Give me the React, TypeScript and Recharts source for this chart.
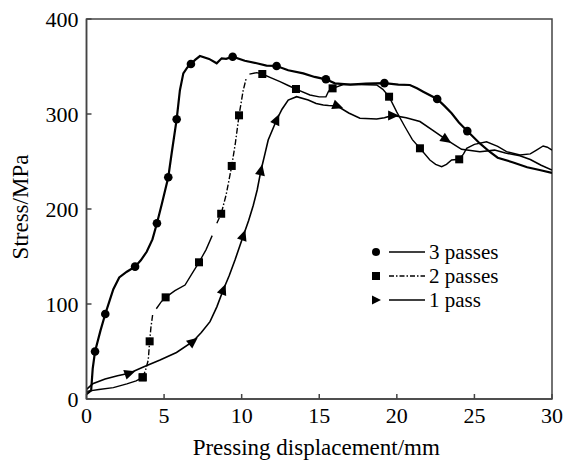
import React from 'react';
import { LineChart, Line, XAxis, YAxis, ReferenceArea, Legend } from 'recharts';

const FONT = '"Liberation Serif", "Times New Roman", Tinos, "DejaVu Serif", serif';

const X_TICKS = [0, 5, 10, 15, 20, 25, 30];
const Y_TICKS = [0, 100, 200, 300, 400];
const SERIES_NAMES = ['3 passes', '2 passes', '1 pass'];

// [displacement (mm), stress (MPa), marker flag]
const pass3: number[][] = [
  [0, 5], [0.3, 9], [0.4, 32], [0.55, 50, 1], [0.9, 72], [1.21, 89.5, 1], [1.5, 104], [1.73, 115.5],
  [2.11, 128], [2.6, 134], [3.13, 139.3, 1], [3.5, 146], [3.88, 155], [4.25, 168], [4.54, 185, 1],
  [4.85, 205], [5.27, 233.4, 1], [5.5, 260], [5.81, 294.4, 1], [6.02, 325], [6.24, 342.8], [6.5, 349],
  [6.73, 352.6, 1], [7.0, 357], [7.31, 361], [7.9, 358], [8.39, 353.4], [8.71, 358.6], [9.0, 358],
  [9.42, 360.3, 1], [10.2, 356], [10.97, 353.4], [11.6, 351], [12.25, 350.5, 1], [13.0, 346],
  [13.97, 342.8], [14.7, 339], [15.43, 336.5, 1], [16.01, 332.3], [17.0, 331], [18.0, 332],
  [19.2, 332.5, 1], [20.1, 331], [20.84, 330.5], [21.3, 327], [21.7, 323.5], [22.6, 315.8, 1],
  [23.1, 308], [23.53, 300.7], [24.0, 291], [24.54, 282, 1], [25.35, 269], [26.0, 260], [26.5, 254],
  [27.5, 249], [28.4, 244], [29.2, 241], [30, 238],
];

const pass2: number[][] = [
  [0, 8], [0.8, 10], [1.73, 12], [2.6, 16], [3.2, 19], [3.62, 22.8, 1], [3.8, 30], [3.98, 41],
  [4.07, 60.7, 1], [4.15, 75], [4.26, 88.4], [4.5, 95], [4.8, 102], [5.1, 107, 1], [5.7, 114],
  [6.35, 120], [6.8, 132], [7.25, 143.9, 1], [7.7, 157], [8.1, 172], [8.4, 185], [8.68, 195, 1],
  [9.0, 215], [9.36, 245.3, 1], [9.6, 270], [9.83, 298.6, 1], [10.1, 325], [10.3, 338], [10.5, 342],
  [10.97, 343.5], [11.33, 342.1, 1], [11.9, 338], [12.47, 334], [13.0, 330], [13.5, 326.3, 1],
  [14.4, 320], [15.0, 318], [15.43, 318], [15.6, 324], [15.86, 327, 1], [16.55, 331], [17.5, 331],
  [18.7, 330.5], [19.1, 326], [19.5, 318.2, 1], [20.0, 302], [20.52, 286.6], [21.0, 273],
  [21.49, 263.9, 1], [22.13, 251.6], [22.5, 247], [22.89, 244.5], [23.2, 247], [23.53, 251.6],
  [24.02, 252.3, 1], [24.3, 258], [24.5, 263.9], [25.0, 268], [25.78, 270.8], [26.5, 266],
  [27.07, 260.3], [27.93, 256.8], [28.6, 258], [29.0, 262], [29.43, 266.3], [29.7, 265], [30, 262],
];
// displacement ranges where the 2-pass curve is drawn dash-dotted
const pass2DashRanges: number[][] = [[3.62, 4.3], [8.3, 10.4]];

const pass1: number[][] = [
  [0, 10], [0.4, 16], [1.2, 21], [2.0, 24.5], [2.75, 27, 1], [3.7, 34], [4.74, 41], [5.8, 49],
  [6.84, 60.3, 1], [7.4, 70], [7.96, 81.4], [8.4, 97], [8.81, 114.7, 1], [9.2, 130], [9.57, 146.3],
  [10.1, 171.6, 1], [10.45, 188], [10.75, 204], [11.0, 220], [11.24, 240.3, 1], [11.5, 258],
  [11.71, 272.6], [12.25, 293.7, 1], [12.6, 305], [13.0, 314.7], [13.54, 318.2], [14.29, 314.7],
  [14.8, 311], [15.26, 309.5], [15.6, 309], [16.16, 308.4, 1], [16.9, 301], [17.62, 295.5],
  [18.7, 294.7], [19.2, 296], [19.73, 298.5, 1], [20.6, 296], [21.49, 292], [22.3, 283],
  [23.16, 273.3, 1], [24.17, 262.8], [25.35, 260.3], [26.3, 262], [27.0, 259], [27.93, 256],
  [28.6, 252], [29.3, 246], [30, 241],
];

const toRows = (arr: number[][]) => arr.map(([x, y, m]) => ({ x, y, m: !!m }));
const inRange = (x: number, open: boolean) =>
  pass2DashRanges.some(([a, b]) => (open ? x > a && x < b : x >= a && x <= b));

const data3 = toRows(pass3);
const data1 = toRows(pass1);
const data2Solid = toRows(pass2).map((r) => ({ ...r, y: inRange(r.x, true) ? null : r.y }));
const data2Dash = toRows(pass2).map((r) => ({ ...r, y: inRange(r.x, false) ? r.y : null }));

const PX_X = 465.5 / 30;
const PX_Y = 380 / 400;

const makeDot = (kind: string, rows: any[]) => (props: any) => {
  const { cx, cy, payload, index, points } = props;
  const key = `${kind}-${index}`;
  if (!payload || !payload.m || cx == null || cy == null || payload.y == null) return <g key={key} />;
  if (kind === 'circle') return <circle key={key} cx={cx} cy={cy} r={4.3} fill="#000" />;
  if (kind === 'square') return <rect key={key} x={cx - 4} y={cy - 4} width={8} height={8} fill="#000" />;
  let ang = 0;
  if (points && points.length > 1) {
    const p0 = points[Math.max(0, index - 1)];
    const p1 = points[Math.min(points.length - 1, index + 1)];
    ang = (Math.atan2(p1.y - p0.y, p1.x - p0.x) * 180) / Math.PI;
  } else {
    const a = rows[Math.max(0, index - 1)];
    const b = rows[Math.min(rows.length - 1, index + 1)];
    ang = (Math.atan2(-(b.y - a.y) * PX_Y, (b.x - a.x) * PX_X) * 180) / Math.PI;
  }
  return (
    <polygon key={key} points="6.5,0 -4.5,-5 -4.5,5" transform={`translate(${cx},${cy}) rotate(${ang})`} fill="#000" />
  );
};

const LEGEND_STYLES = [
  { marker: 'circle', dash: undefined as string | undefined },
  { marker: 'square', dash: '5 2 1.5 2' },
  { marker: 'triangle', dash: undefined as string | undefined },
];

const textStyle = { fontFamily: FONT };

const LegendContent = () => (
  <svg width={170} height={80} style={{ display: 'block' }}>
    {SERIES_NAMES.map((name, i) => {
      const y = 14 + i * 24;
      const st = LEGEND_STYLES[i];
      return (
        <g key={name}>
          {st.marker === 'circle' && <circle cx={16} cy={y} r={4} fill="#000" />}
          {st.marker === 'square' && <rect x={12} y={y - 4} width={8} height={8} fill="#000" />}
          {st.marker === 'triangle' && <polygon points={`${21},${y} ${12},${y - 4.5} ${12},${y + 4.5}`} fill="#000" />}
          <line x1={29} x2={65} y1={y} y2={y} stroke="#000" strokeWidth={1.5} strokeDasharray={st.dash} />
          <text x={69} y={y} dominantBaseline="central" fontSize={21} style={textStyle} fill="#000">
            {name}
          </text>
        </g>
      );
    })}
  </svg>
);

const XTitle = (p: any) => {
  const vb = p.viewBox || { x: 86.5, y: 399, width: 465.5, height: 63 };
  return (
    <text x={vb.x + vb.width / 2 - 3} y={vb.y + 56} textAnchor="middle" fontSize={23} style={textStyle} fill="#000">
      Pressing displacement/mm
    </text>
  );
};

const YTitle = (p: any) => {
  const vb = p.viewBox || { x: 0, y: 19, width: 86.5, height: 380 };
  const cx = vb.x + 20;
  const cy = vb.y + vb.height / 2 - 2;
  return (
    <text x={cx} y={cy} transform={`rotate(-90 ${cx} ${cy})`} textAnchor="middle" dominantBaseline="central" fontSize={23} style={textStyle} fill="#000">
      Stress/MPa
    </text>
  );
};

export default function App() {
  return (
    <div style={{ position: 'absolute', left: 0, top: 0, width: 566, height: 462, background: '#fff', fontFamily: FONT }}>
      <LineChart width={566} height={462} margin={{ top: 19, right: 14, bottom: 0, left: 0 }} style={{ fontFamily: FONT }}>
        <XAxis
          type="number"
          dataKey="x"
          domain={[0, 30]}
          ticks={X_TICKS}
          interval={0}
          allowDataOverflow
          height={63}
          tickSize={-5}
          tickMargin={13}
          stroke="#444"
          strokeWidth={1.5}
          tick={{ fill: '#000', fontSize: 22, style: textStyle }}
          label={<XTitle />}
        />
        <YAxis
          type="number"
          dataKey="y"
          domain={[0, 400]}
          ticks={Y_TICKS}
          interval={0}
          allowDataOverflow
          width={86.5}
          tickSize={-5}
          tickMargin={13}
          stroke="#444"
          strokeWidth={1.5}
          tick={{ fill: '#000', fontSize: 22, style: textStyle }}
          label={<YTitle />}
        />
        <ReferenceArea x1={0} x2={30} y1={0} y2={400} fill="none" stroke="#444" strokeWidth={1.5} ifOverflow="visible" />
        <Line data={data1} dataKey="y" name={SERIES_NAMES[2]} type="linear" stroke="#000" strokeWidth={1.6}
          dot={makeDot('triangle', data1)} activeDot={false} isAnimationActive={false} legendType="none" />
        <Line data={data2Solid} dataKey="y" name={SERIES_NAMES[1]} type="linear" stroke="#000" strokeWidth={1.4}
          dot={makeDot('square', data2Solid)} activeDot={false} isAnimationActive={false} legendType="none" />
        <Line data={data2Dash} dataKey="y" name={SERIES_NAMES[1] + ' dash'} type="linear" stroke="#000" strokeWidth={1.4}
          strokeDasharray="6 2 1.5 2" dot={makeDot('square', data2Dash)} activeDot={false} isAnimationActive={false} legendType="none" />
        <Line data={data3} dataKey="y" name={SERIES_NAMES[0]} type="linear" stroke="#000" strokeWidth={2.2}
          dot={makeDot('circle', data3)} activeDot={false} isAnimationActive={false} legendType="none" />
        <Legend
          layout="vertical"
          align="center"
          verticalAlign="middle"
          content={<LegendContent />}
          wrapperStyle={{ position: 'absolute', left: 360, top: 238, width: 170, height: 80 }}
        />
      </LineChart>
    </div>
  );
}
